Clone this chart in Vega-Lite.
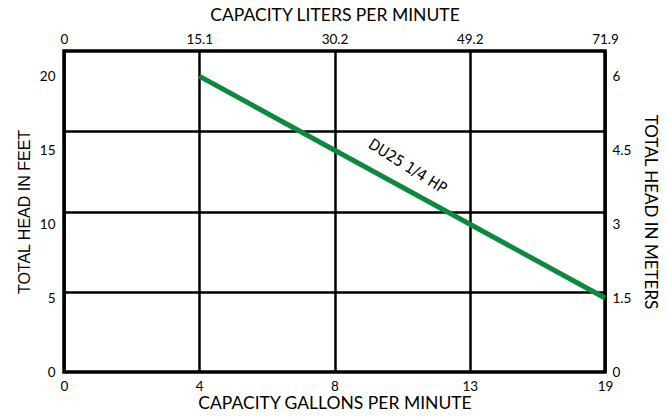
{
  "$schema": "https://vega.github.io/schema/vega-lite/v6.json",
  "width": 541,
  "height": 321,
  "autosize": {"type": "none"},
  "padding": {"left": 64, "top": 51, "right": 63, "bottom": 46},
  "background": "white",
  "config": {
    "view": {"stroke": "black", "strokeWidth": 3.5},
    "axis": {
      "labelFont": "Lato",
      "titleFont": "Lato",
      "labelColor": "black",
      "titleColor": "black",
      "labelFontSize": 13.5,
      "titleFontSize": 17.5,
      "titleFontWeight": "normal",
      "domain": false,
      "ticks": false,
      "labelFlush": false,
      "labelOverlap": false,
      "gridColor": "black",
      "gridOpacity": 1,
      "gridWidth": 2.5
    }
  },
  "datasets": {
    "pump": [{"gpm": 4, "feet": 20}, {"gpm": 19, "feet": 5}],
    "label": [{"gpm": 10.7, "feet": 13.9, "text": "DU25 1/4 HP"}]
  },
  "resolve": {"axis": {"x": "independent", "y": "independent"}},
  "layer": [
    {
      "data": {"name": "pump"},
      "mark": {"type": "point", "opacity": 0},
      "encoding": {
        "x": {
          "field": "gpm", "type": "quantitative",
          "scale": {"domain": [0, 4, 8, 13, 19], "range": [0, 135.25, 270.5, 405.75, 541], "nice": false},
          "axis": {
            "orient": "top", "values": [0, 4, 8, 13, 19], "grid": false,
            "labelExpr": "datum.value == 4 ? '15.1' : datum.value == 8 ? '30.2' : datum.value == 13 ? '49.2' : datum.value == 19 ? '71.9' : '0'",
            "labelPadding": 5, "title": "CAPACITY LITERS PER MINUTE", "titlePadding": 8
          }
        },
        "y": {
          "field": "feet", "type": "quantitative",
          "scale": {"domain": [0, 21.7], "nice": false, "zero": true},
          "axis": {"orient": "left", "values": [5.425, 10.85, 16.275], "grid": true, "labels": false, "title": null}
        }
      }
    },
    {
      "data": {"name": "pump"},
      "mark": {"type": "line", "color": "#0b8a3e", "strokeWidth": 5},
      "encoding": {
        "x": {
          "field": "gpm", "type": "quantitative",
          "scale": {"domain": [0, 4, 8, 13, 19], "range": [0, 135.25, 270.5, 405.75, 541], "nice": false},
          "axis": {"orient": "bottom", "values": [0, 4, 8, 13, 19], "grid": true, "labelPadding": 7, "title": "CAPACITY GALLONS PER MINUTE", "titlePadding": 2}
        },
        "y": {
          "field": "feet", "type": "quantitative",
          "scale": {"domain": [0, 21.7], "nice": false, "zero": true},
          "axis": {"orient": "left", "values": [0, 5, 10, 15, 20], "grid": false, "labelPadding": 9, "title": "TOTAL HEAD IN FEET", "titleFont": "Liberation Sans", "titleFontSize": 16, "titleFontWeight": "normal", "titlePadding": 7}
        }
      }
    },
    {
      "data": {"name": "label"},
      "mark": {"type": "text", "angle": 32, "font": "DejaVu Sans Condensed", "fontSize": 15.5, "color": "black"},
      "encoding": {
        "x": {
          "field": "gpm", "type": "quantitative",
          "scale": {"domain": [0, 4, 8, 13, 19], "range": [0, 135.25, 270.5, 405.75, 541], "nice": false},
          "axis": null
        },
        "y": {
          "field": "feet", "type": "quantitative",
          "scale": {"domain": [0, 21.7], "nice": false, "zero": true},
          "axis": {"orient": "right", "values": [0, 5, 10, 15, 20], "grid": false, "labelPadding": 7,
                   "labelExpr": "format(datum.value * 3 / 10, '')",
                   "title": "TOTAL HEAD IN METERS", "titleFontSize": 17, "titlePadding": 10}
        },
        "text": {"field": "text"}
      }
    }
  ]
}
